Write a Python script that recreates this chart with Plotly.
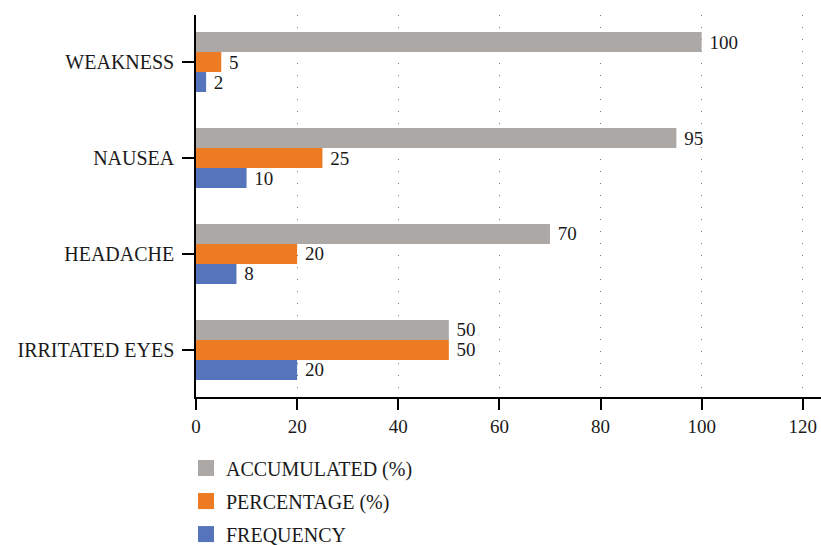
import plotly.graph_objects as go

symptoms = ["IRRITATED EYES", "HEADACHE", "NAUSEA", "WEAKNESS"]
frequency = [20, 8, 10, 2]
percentage = [50, 20, 25, 5]
accumulated = [50, 70, 95, 100]
x_ticks = [0, 20, 40, 60, 80, 100, 120]

FONT = "Liberation Serif"
series = [
    ("FREQUENCY", frequency, "#5674bc"),
    ("PERCENTAGE (%)", percentage, "#ec7b23"),
    ("ACCUMULATED (%)", accumulated, "#aca8a6"),
]

fig = go.Figure()
for name, vals, col in series:
    fig.add_trace(go.Bar(
        name=name, y=symptoms, x=vals, orientation="h",
        marker=dict(color=col, line=dict(width=0)),
        text=vals, texttemplate=" %{x}", textposition="outside",
        constraintext="none",
        textfont=dict(family=FONT, size=19, color="#1a1a1a"),
        cliponaxis=False, showlegend=False,
    ))

# legend entries with bigger square swatches
for name, vals, col in reversed(series):
    fig.add_trace(go.Scatter(
        name=name, x=[None], y=[None], mode="markers",
        marker=dict(symbol="square", size=20, color=col),
        legendgroup=name,
    ))

fig.update_layout(
    width=821, height=545,
    barmode="group", bargap=0.375, bargroupgap=0,
    plot_bgcolor="white", paper_bgcolor="white",
    font=dict(family=FONT, size=19, color="#1a1a1a"),
    margin=dict(l=196, r=0, t=15, b=148, autoexpand=False),
    legend=dict(
        x=-0.016, xanchor="left", y=-0.135, yanchor="top",
        orientation="v", itemsizing="trace", tracegroupgap=4,
        font=dict(family=FONT, size=20, color="#1a1a1a"),
    ),
)
fig.update_xaxes(
    range=[0, 123.6], tickvals=x_ticks,
    showgrid=True, gridcolor="#777777", gridwidth=1, griddash="1px,11px",
    showline=True, linecolor="black", linewidth=1.5,
    ticks="outside", ticklen=11, tickcolor="black", tickwidth=1.5,
    zeroline=False, tickfont=dict(size=19),
)
fig.update_yaxes(
    range=[-0.49, 3.49],
    showline=True, linecolor="black", linewidth=1.5,
    ticks="outside", ticklen=12, tickcolor="black", tickwidth=1.5,
    ticklabelstandoff=4,
    showgrid=False, tickfont=dict(size=20),
)

fig.write_html(
    "out.html",
    config={"displayModeBar": False},
    post_script="document.body.style.margin='0';document.body.style.overflow='hidden';",
)
